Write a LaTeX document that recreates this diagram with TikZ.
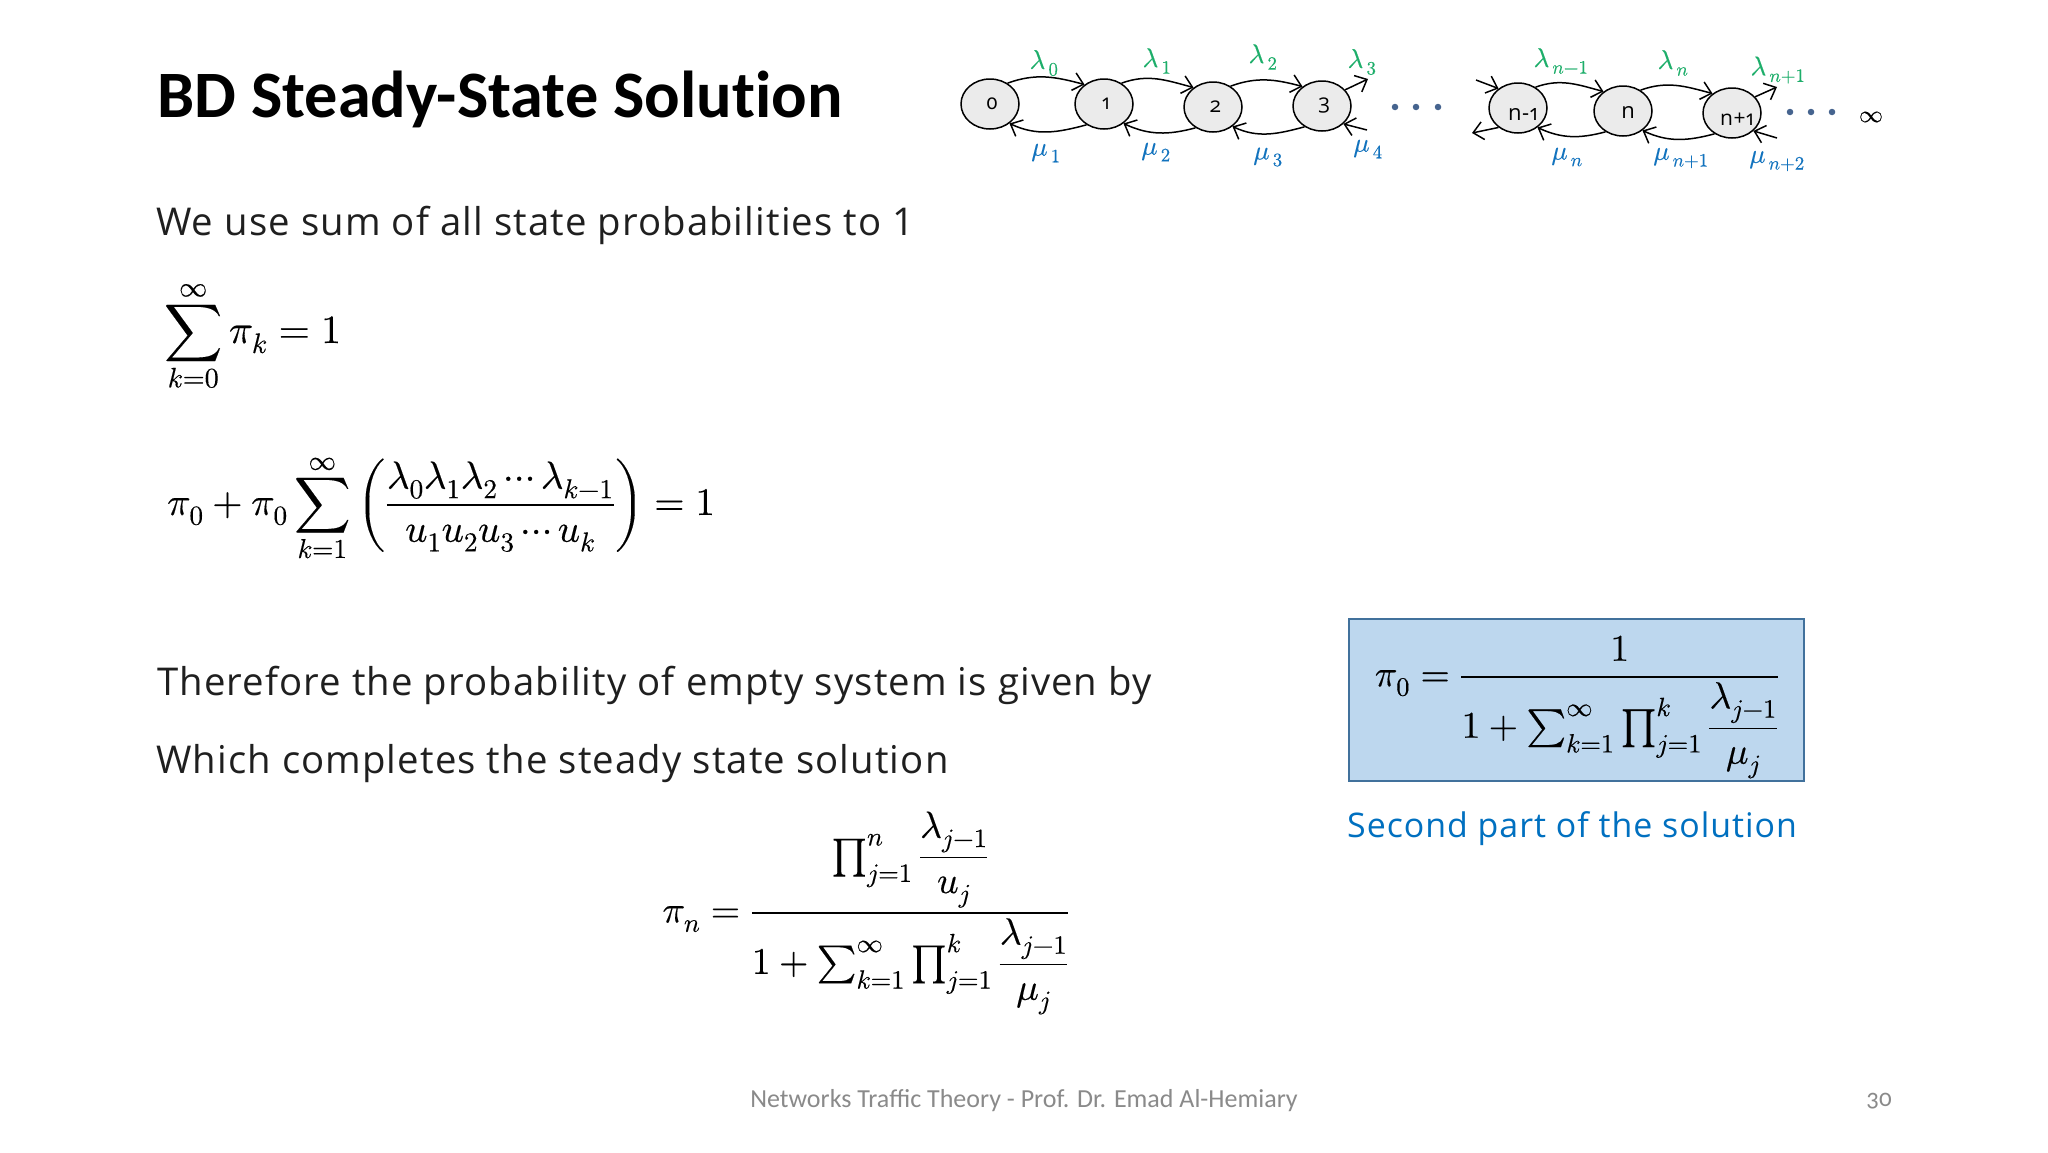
\documentclass[tikz,border=0pt]{standalone}
\usepackage{amsmath}
\usepackage{fontspec}
\usepackage{unicode-math}
\setmainfont{Open Sans}[Numbers=OldStyle,LetterSpace=2.9]
\setmathfont{Latin Modern Math}[FakeBold=0.3]
\newfontfamily\titlefont{Carlito}[Numbers=OldStyle]
\usetikzlibrary{arrows.meta,shapes.geometric}
\definecolor{ink}{HTML}{1F1F1F}
\definecolor{lamcol}{HTML}{1DAE6A}
\definecolor{mucol}{HTML}{1273BE}
\definecolor{dotcol}{HTML}{46648F}
\definecolor{boxfill}{HTML}{BDD7EE}
\definecolor{boxline}{HTML}{41719C}
\definecolor{capcol}{HTML}{0070C0}
\definecolor{footcol}{HTML}{8A8A8A}
\newcommand{\fsz}[1]{\fontsize{#1}{#1}\selectfont}
\tikzset{
 x=1pt,y=-1pt,
 state/.style={ellipse,draw=black,fill=black!8,line width=1.5pt,minimum width=58pt,minimum height=50pt,inner sep=0pt,font=\fsz{21}},
 link/.style={line width=1.5pt,-{Straight Barb[length=10pt,width=18pt,line width=1.5pt]}},
 lam/.style={text=lamcol,inner sep=0pt,font=\fsz{27}},
 mu/.style={text=mucol,inner sep=0pt,font=\fsz{27}},
 para/.style={anchor=west,inner sep=0pt,text=ink,font=\fsz{38.3}},
 eq/.style={inner sep=0pt,text=black,font=\fsz{37.7}},
 dotm/.style={circle,fill=dotcol,minimum size=6.5pt,inner sep=0pt},
}
\begin{document}
\begin{tikzpicture}
\useasboundingbox (0,0) rectangle (2048,1152);
\fill[white] (0,0) rectangle (2048,1152);
\node[anchor=west,inner sep=0pt,text=black,font=\titlefont\bfseries\fsz{66.3}] (title) at (157,99) {BD Steady-State Solut\kern0pt ion};
\node[state] (n0) at (990,104) {\hspace*{4pt}0};
\node[state] (n1) at (1104,104) {\hspace*{4pt}1};
\node[state] (n2) at (1213,107) {\hspace*{5pt}2};
\node[state] (n3) at (1322,106) {\hspace*{4pt}3};
\node[state] (na) at (1518,108) {};
\node[state] (nb) at (1623,111) {};
\node[state] (nc) at (1732,113) {};
\node[inner sep=0pt,font=\fsz{22}] (tna) at (1523,114) {n-1};
\node[inner sep=0pt,font=\fsz{22}] (tnb) at (1628,113) {n};
\node[inner sep=0pt,font=\fsz{21}] (tnc) at (1737,119) {n+1};
\coordinate (f1) at (1368,79);
\coordinate (f2) at (1367,130);
\coordinate (f3) at (1476,80);
\coordinate (f4) at (1472,133);
\coordinate (f5) at (1777,87);
\coordinate (f6) at (1777,138);
\draw[link] (n0.50) to[out=20,in=165] (n1.135);
\draw[link] (n1.50) to[out=20,in=165] (n2.135);
\draw[link] (n2.50) to[out=20,in=165] (n3.135);
\draw[link] (n3.35) -- (f1);
\draw[link] (f2) -- (n3.-40);
\draw[link] (n1.-130) to[out=195,in=-25] (n0.-45);
\draw[link] (n2.-130) to[out=195,in=-25] (n1.-45);
\draw[link] (n3.-130) to[out=195,in=-25] (n2.-45);
\draw[link] (f3) -- (na.135);
\draw[link] (na.-135) -- (f4);
\draw[link] (na.50) to[out=20,in=165] (nb.135);
\draw[link] (nb.50) to[out=20,in=165] (nc.135);
\draw[link] (nc.35) -- (f5);
\draw[link] (f6) -- (nc.-40);
\draw[link] (nb.-130) to[out=195,in=-25] (na.-45);
\draw[link] (nc.-130) to[out=195,in=-25] (nb.-45);
\node[lam] (l0) at (1044,63) {$\lambda_{\,0}$};
\node[lam] (l1) at (1157,61) {$\lambda_{\,1}$};
\node[lam] (l2) at (1263,57) {$\lambda_{\,2}$};
\node[lam] (l3) at (1362,62) {$\lambda_{\,3}$};
\node[lam] (l4) at (1561,61) {$\lambda_{\,n-1}$};
\node[lam] (l5) at (1673,63) {$\lambda_{\,n}$};
\node[lam] (l6) at (1778,70) {$\lambda_{\,n+1}$};
\node[mu] (m1) at (1046,153) {$\mu_{\,1}$};
\node[mu] (m2) at (1156,152) {$\mu_{\,2}$};
\node[mu] (m3) at (1268,157) {$\mu_{\,3}$};
\node[mu] (m4) at (1368,149) {$\mu_{\,4}$};
\node[mu] (m5) at (1567,157) {$\mu_{\,n}$};
\node[mu] (m6) at (1681,158) {$\mu_{\,n+1}$};
\node[mu] (m7) at (1777,161) {$\mu_{\,n+2}$};
\node[dotm] (d1) at (1395,107) {};
\node[dotm] (d2) at (1416,107) {};
\node[dotm] (d3) at (1438,107) {};
\node[dotm] (d4) at (1790,112) {};
\node[dotm] (d5) at (1811,112) {};
\node[dotm] (d6) at (1832,112) {};
\node[inner sep=0pt,font=\fsz{24}] (inf) at (1871,117) {$\infty$};
\node[para] (p1) at (156,225) {We use sum of all state probabilities to \addfontfeature{Numbers=Lining}1};
\node[eq,anchor=west,font=\fsz{40.2}] (e1) at (164,336) {$\displaystyle\sum_{k=0}^{\infty}\pi_k=1$};
\node[eq,anchor=west,font=\fsz{39}] (e2) at (167,508) {$\displaystyle\pi_0+\pi_0\sum_{k=1}^{\infty}\left(\frac{\lambda_0\lambda_1\lambda_2\cdots\lambda_{k-1}}{u_1u_2u_3\cdots u_k}\right)=1$};
\node[para] (p2) at (157,685) {Therefore the probability of empty system is given by};
\node[para] (p3) at (156,764) {Which completes the steady state solution};
\node[eq] (e3) at (866,913) {$\displaystyle\pi_n=\frac{\prod_{j=1}^{n}\dfrac{\lambda_{j-1}}{u_j}}{1+\sum_{k=1}^{\infty}\prod_{j=1}^{k}\dfrac{\lambda_{j-1}}{\mu_j}}$};
\node[draw=boxline,fill=boxfill,line width=2pt,minimum width=455pt,minimum height=162pt,inner sep=0pt] (bx) at (1576.5,700) {};
\node[eq] (e4) at (1577,707) {$\displaystyle\pi_0=\frac{1}{1+\sum_{k=1}^{\infty}\prod_{j=1}^{k}\dfrac{\lambda_{j-1}}{\mu_j}}$};
\node[anchor=west,inner sep=0pt,text=capcol,font=\fsz{33.9}] (cap) at (1347,829) {Second part of the solution};
\node[inner sep=0pt,text=footcol,font=\titlefont\fsz{26}] (foot) at (1024,1101) {Networks Traffic Theory - Prof. Dr. Emad Al-Hemiary};
\node[inner sep=0pt,text=footcol,font=\titlefont\fsz{25}] (pg) at (1879,1101) {30};
\end{tikzpicture}
\end{document}
